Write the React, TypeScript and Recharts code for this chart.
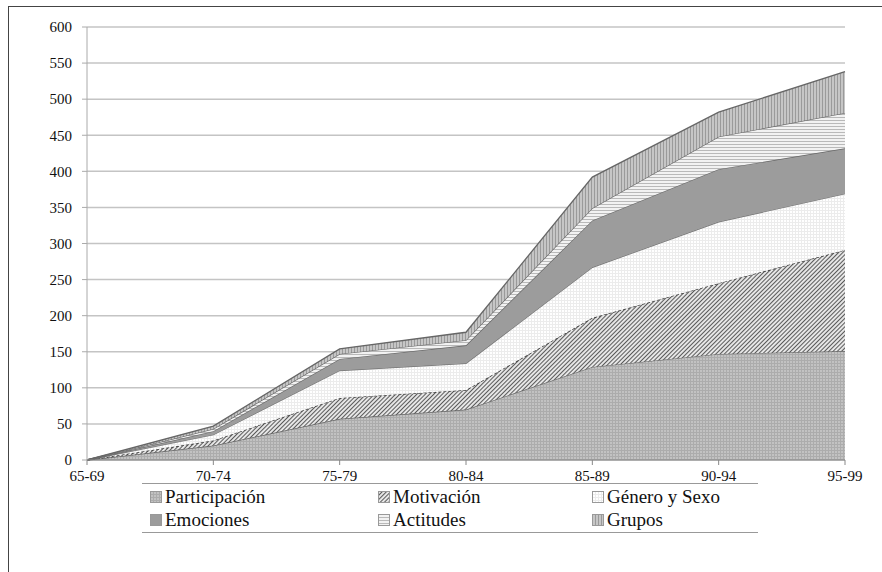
import React from 'react';
import { AreaChart, Area, XAxis, YAxis, CartesianGrid } from 'recharts';

const periods = ['65-69', '70-74', '75-79', '80-84', '85-89', '90-94', '95-99'];
const participacion = [0, 20, 57, 70, 129, 147, 151];
const motivacion = [0, 7, 29, 27, 68, 98, 140];
const generoSexo = [0, 8, 38, 37, 70, 85, 78];
const emociones = [0, 5, 16, 25, 65, 73, 63];
const actitudes = [0, 3, 7, 7, 17, 45, 49];
const grupos = [0, 4, 7, 11, 43, 34, 57];
const yTicks = [0, 50, 100, 150, 200, 250, 300, 350, 400, 450, 500, 550, 600];

const series = [
  { key: 'participacion', name: 'Participación', values: participacion, fill: 'url(#pPart)', stroke: '#666', dash: undefined },
  { key: 'motivacion', name: 'Motivación', values: motivacion, fill: 'url(#pMot)', stroke: '#333', dash: '3 2' },
  { key: 'genero', name: 'Género y Sexo', values: generoSexo, fill: 'url(#pGen)', stroke: '#777', dash: undefined },
  { key: 'emociones', name: 'Emociones', values: emociones, fill: '#9c9c9c', stroke: '#666', dash: undefined },
  { key: 'actitudes', name: 'Actitudes', values: actitudes, fill: 'url(#pAct)', stroke: '#666', dash: undefined },
  { key: 'grupos', name: 'Grupos', values: grupos, fill: 'url(#pGru)', stroke: '#666', dash: undefined },
];

const data = periods.map((p, i) => {
  const row: Record<string, string | number> = { period: p };
  series.forEach((s) => {
    row[s.key] = s.values[i];
  });
  return row;
});

const font = '"Liberation Serif", "DejaVu Serif", serif';

function Swatch({ fill }: { fill: string }) {
  return (
    <svg width={12} height={12} style={{ marginRight: 3, flexShrink: 0 }}>
      <rect x={0.5} y={0.5} width={11} height={11} fill={fill} stroke="#999" />
    </svg>
  );
}

function Patterns() {
  return (
    <defs>
      <pattern id="pPart" width={3} height={3} patternUnits="userSpaceOnUse">
        <rect width={3} height={3} fill="#c2c2c2" />
        <path d="M0 0.5H3M0.5 0V3" stroke="#acacac" strokeWidth={1} />
      </pattern>
      <pattern id="pMot" width={3} height={3} patternUnits="userSpaceOnUse" patternTransform="rotate(45)">
        <rect width={3} height={3} fill="#e6e6e6" />
        <path d="M0 0V3" stroke="#4a4a4a" strokeWidth={1.8} />
      </pattern>
      <pattern id="pGen" width={3} height={3} patternUnits="userSpaceOnUse">
        <rect width={3} height={3} fill="#ffffff" />
        <path d="M0 0.5H3M0.5 0V3" stroke="#ececec" strokeWidth={1} />
      </pattern>
      <pattern id="pAct" width={3} height={3} patternUnits="userSpaceOnUse">
        <rect width={3} height={3} fill="#f2f2f2" />
        <path d="M0 0.5H3" stroke="#b9b9b9" strokeWidth={1} />
      </pattern>
      <pattern id="pGru" width={3} height={3} patternUnits="userSpaceOnUse">
        <rect width={3} height={3} fill="#c6c6c6" />
        <path d="M0.5 0V3" stroke="#9a9a9a" strokeWidth={1} />
      </pattern>
    </defs>
  );
}

export default function App() {
  const order = [0, 1, 2, 3, 4, 5];
  return (
    <div style={{ position: 'fixed', left: 0, top: 0, width: 882, height: 572, background: '#fff', fontFamily: font }}>
      <div
        style={{
          position: 'fixed',
          left: 8,
          top: 6,
          width: 900,
          height: 600,
          borderLeft: '1px solid #444',
          borderTop: '1px solid #444',
        }}
      />
      <div style={{ position: 'absolute', left: 0, top: 0 }}>
        <AreaChart
          width={882}
          height={572}
          data={data}
          margin={{ top: 27, right: 37, bottom: 82, left: 27 }}
        >
          <Patterns />
          <CartesianGrid vertical={false} stroke="#c4c4c4" strokeWidth={1.5} />
          <XAxis
            dataKey="period"
            padding={{ left: 0, right: 0 }}
            tick={{ fontSize: 15, fill: '#111', fontFamily: font }}
            tickSize={5}
            tickMargin={5}
            stroke="#888"
            height={30}
            interval={0}
          />
          <YAxis
            domain={[0, 600]}
            ticks={yTicks}
            width={60}
            tick={{ fontSize: 15, fill: '#111', fontFamily: font }}
            tickSize={5}
            tickMargin={10}
            stroke="#aaa"
            interval={0}
          />
          {series.map((s) => (
            <Area
              key={s.key}
              type="linear"
              dataKey={s.key}
              name={s.name}
              stackId="1"
              fill={s.fill}
              fillOpacity={1}
              stroke={s.stroke}
              strokeWidth={1.3}
              strokeDasharray={s.dash}
              isAnimationActive={false}
              dot={false}
              activeDot={false}
            />
          ))}
        </AreaChart>
      </div>
      <div
        style={{
          position: 'absolute',
          left: 142,
          top: 483,
          width: 616,
          height: 50,
          borderTop: '1.5px solid #999',
          borderBottom: '1.5px solid #999',
          display: 'grid',
          gridTemplateColumns: '228px 214px 174px',
          alignContent: 'center',
          boxSizing: 'border-box',
        }}
      >
        {order.map((i) => (
          <div
            key={series[i].key}
            style={{ display: 'flex', alignItems: 'center', fontSize: 19, lineHeight: '23px', height: 23, paddingLeft: 8, color: '#111', whiteSpace: 'nowrap' }}
          >
            <Swatch fill={series[i].fill} />
            {series[i].name}
          </div>
        ))}
      </div>
    </div>
  );
}
